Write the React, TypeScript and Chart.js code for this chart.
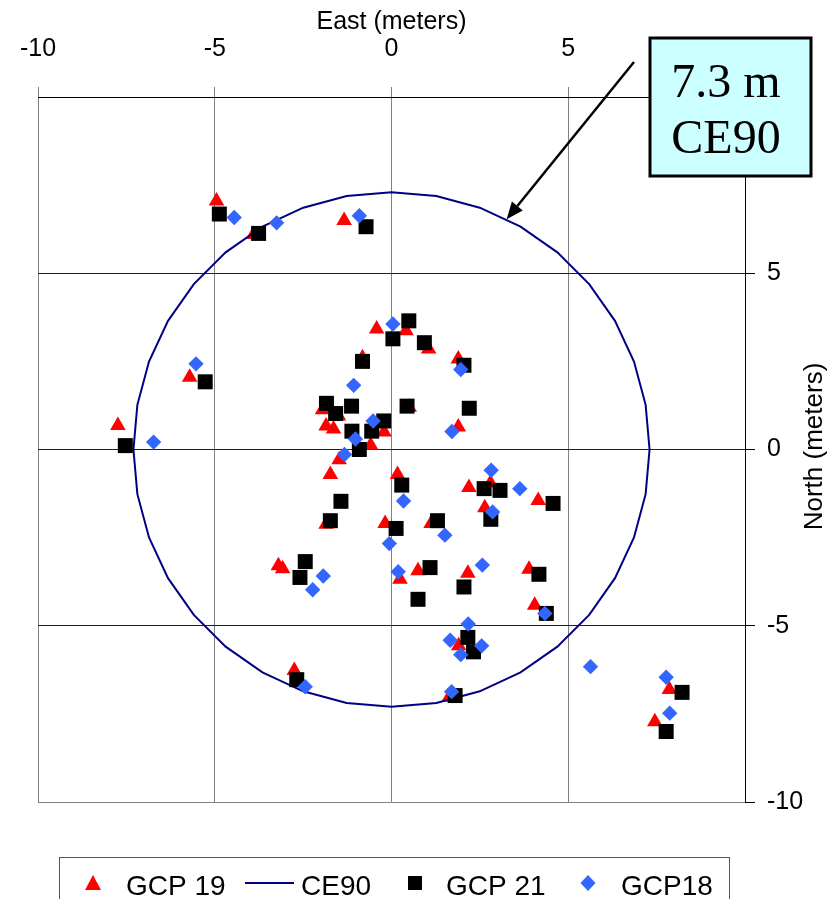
import React, { useEffect, useRef } from 'react';
import { Chart, registerables } from 'chart.js';

Chart.register(...registerables);

// ---- Data ----
const AXIS_MIN = -10;
const AXIS_MAX = 10;
const AXIS_STEP = 5;

const X_TITLE = 'East (meters)';
const Y_TITLE = 'North (meters)';

const LEGEND_LABELS = ['GCP 19', 'CE90', 'GCP 21', 'GCP18'];

// CE90 circle radius (meters), drawn as a polygon of vertices like the original
const CE90_RADIUS = 7.3;
const CE90_STEP_DEG = 10;
const CALLOUT_LINES = ['7.3 m', 'CE90'];
const CALLOUT_ANGLE_DEG = 63.5;

const GCP19: [number, number][] = [
  [-4.95, 7.05], [-3.9, 6.1], [-1.34, 6.5], [-5.71, 2.05], [-7.74, 0.68],
  [-0.42, 3.42], [0.41, 3.37], [1.05, 2.85], [-0.82, 2.6], [1.89, 2.57],
  [-1.95, 1.13], [-1.5, 0.95], [0.5, 1.2], [-1.85, 0.67], [-1.64, 0.58],
  [-0.21, 0.5], [-0.59, 0.12], [-1.48, -0.29], [1.89, 0.64], [-1.73, -0.71],
  [0.17, -0.71], [-1.85, -2.12], [-0.18, -2.1], [1.12, -2.1], [2.19, -1.08],
  [2.8, -0.95], [4.15, -1.45], [2.64, -1.65], [-3.2, -3.3], [-3.08, -3.38],
  [0.24, -3.68], [0.75, -3.44], [2.16, -3.51], [3.89, -3.4], [4.05, -4.42],
  [1.9, -5.57], [-2.75, -6.27], [1.63, -7.03], [7.86, -6.81], [7.45, -7.72],
];

const GCP21: [number, number][] = [
  [-4.87, 6.68], [-3.76, 6.13], [-0.72, 6.32], [-5.27, 1.92], [-7.53, 0.11],
  [0.49, 3.65], [0.04, 3.14], [0.93, 3.03], [-0.82, 2.5], [2.05, 2.39],
  [-1.84, 1.31], [-1.13, 1.23], [-1.58, 1.02], [0.44, 1.23], [2.2, 1.17],
  [-1.12, 0.52], [-0.56, 0.52], [-0.22, 0.81], [-0.91, 0.0], [0.29, -1.01],
  [-1.43, -1.47], [-1.73, -2.02], [0.13, -2.24], [1.3, -2.02], [2.62, -1.11],
  [3.07, -1.16], [4.57, -1.53], [2.81, -1.98], [-2.44, -3.18], [-2.59, -3.63],
  [1.09, -3.35], [0.75, -4.25], [2.05, -3.9], [4.17, -3.54], [4.38, -4.65],
  [2.16, -5.33], [2.32, -5.74], [-2.68, -6.53], [1.8, -6.98], [8.22, -6.89],
  [7.77, -8.0],
];

const GCP18: [number, number][] = [
  [-4.45, 6.58], [-3.25, 6.43], [-0.91, 6.63], [-5.53, 2.43], [-6.73, 0.21],
  [0.04, 3.56], [1.96, 2.27], [-1.07, 1.82], [-0.52, 0.81], [-1.02, 0.3],
  [-1.33, -0.14], [1.71, 0.51], [0.34, -1.46], [2.82, -0.59], [3.63, -1.11],
  [2.86, -1.77], [-0.06, -2.67], [1.51, -2.43], [-1.93, -3.59], [-2.23, -3.98],
  [0.19, -3.47], [2.57, -3.28], [4.34, -4.65], [2.17, -4.95], [1.66, -5.41],
  [2.55, -5.57], [1.96, -5.82], [-2.44, -6.73], [1.7, -6.87], [5.63, -6.16],
  [7.77, -6.46], [7.87, -7.48],
];

// ---- Styles ----
const RED = '#FF0000';
const NAVY = '#000080';
const BLACK = '#000000';
const BLUE = '#3366FF';
const SANS = '"Liberation Sans", Arial, sans-serif';
const SERIF = '"Liberation Serif", "Times New Roman", serif';

const toPts = (arr: [number, number][]) => arr.map(([x, y]) => ({ x, y }));

const circlePts = () => {
  const pts: { x: number; y: number }[] = [];
  for (let a = 0; a <= 360; a += CE90_STEP_DEG) {
    const r = (a * Math.PI) / 180;
    pts.push({ x: CE90_RADIUS * Math.cos(r), y: CE90_RADIUS * Math.sin(r) });
  }
  return pts;
};

function drawMarker(ctx: CanvasRenderingContext2D, kind: string, x: number, y: number, color: string) {
  ctx.save();
  ctx.fillStyle = color;
  ctx.beginPath();
  if (kind === 'triangle') {
    ctx.moveTo(x, y - 8);
    ctx.lineTo(x + 8, y + 7);
    ctx.lineTo(x - 8, y + 7);
    ctx.closePath();
  } else if (kind === 'rect') {
    ctx.rect(x - 7, y - 7, 14, 14);
  } else {
    ctx.moveTo(x, y - 8);
    ctx.lineTo(x + 7.5, y);
    ctx.lineTo(x, y + 8);
    ctx.lineTo(x - 7.5, y);
    ctx.closePath();
  }
  ctx.fill();
  ctx.restore();
}

const overlayPlugin = {
  id: 'overlay',
  afterDraw(chart: any) {
    const ctx: CanvasRenderingContext2D = chart.ctx;
    const xs = chart.scales.x;
    const ys = chart.scales.y;
    const area = chart.chartArea;

    // Y axis title (reads bottom-to-top)
    ctx.save();
    ctx.translate(815, (area.top + area.bottom) / 2 - 3);
    ctx.rotate(-Math.PI / 2);
    ctx.font = `26px ${SANS}`;
    ctx.fillStyle = BLACK;
    ctx.textAlign = 'center';
    ctx.textBaseline = 'middle';
    ctx.fillText(Y_TITLE, 0, 0);
    ctx.restore();

    // Arrow pointing to the CE90 circle
    const ang = (CALLOUT_ANGLE_DEG * Math.PI) / 180;
    const tipX = xs.getPixelForValue(CE90_RADIUS * Math.cos(ang));
    const tipY = ys.getPixelForValue(CE90_RADIUS * Math.sin(ang));
    const sx = 634;
    const sy = 62;
    const dir = Math.atan2(tipY - sy, tipX - sx);
    const headLen = 17;
    const headHalf = 7;
    const bx = tipX - headLen * Math.cos(dir);
    const by = tipY - headLen * Math.sin(dir);
    ctx.save();
    ctx.strokeStyle = BLACK;
    ctx.fillStyle = BLACK;
    ctx.lineWidth = 2.5;
    ctx.beginPath();
    ctx.moveTo(sx, sy);
    ctx.lineTo(bx, by);
    ctx.stroke();
    ctx.beginPath();
    ctx.moveTo(tipX, tipY);
    ctx.lineTo(bx + headHalf * Math.sin(dir), by - headHalf * Math.cos(dir));
    ctx.lineTo(bx - headHalf * Math.sin(dir), by + headHalf * Math.cos(dir));
    ctx.closePath();
    ctx.fill();
    ctx.restore();

    // Callout box
    ctx.save();
    ctx.fillStyle = '#CCFFFF';
    ctx.fillRect(650, 38, 161, 138);
    ctx.strokeStyle = BLACK;
    ctx.lineWidth = 3;
    ctx.strokeRect(650, 38, 161, 138);
    ctx.fillStyle = BLACK;
    ctx.font = `48px ${SERIF}`;
    ctx.textAlign = 'center';
    ctx.textBaseline = 'alphabetic';
    ctx.fillText(CALLOUT_LINES[0], 726, 97);
    ctx.fillText(CALLOUT_LINES[1], 726, 153);
    ctx.restore();

    // Legend
    ctx.save();
    ctx.fillStyle = '#FFFFFF';
    ctx.fillRect(59.5, 857.5, 670, 60);
    ctx.strokeStyle = '#555555';
    ctx.lineWidth = 1;
    ctx.strokeRect(59.5, 857.5, 670, 60);
    ctx.font = `28px ${SANS}`;
    ctx.fillStyle = BLACK;
    ctx.textAlign = 'left';
    ctx.textBaseline = 'alphabetic';
    drawMarker(ctx, 'triangle', 93, 883, RED);
    ctx.fillText(LEGEND_LABELS[0], 126, 895);
    ctx.strokeStyle = NAVY;
    ctx.lineWidth = 2;
    ctx.beginPath();
    ctx.moveTo(245, 883);
    ctx.lineTo(294, 883);
    ctx.stroke();
    ctx.fillText(LEGEND_LABELS[1], 301, 895);
    drawMarker(ctx, 'rect', 415, 883, BLACK);
    ctx.fillText(LEGEND_LABELS[2], 446, 895);
    drawMarker(ctx, 'diamond', 588, 883, BLUE);
    ctx.fillText(LEGEND_LABELS[3], 621, 895);
    ctx.restore();
  },
};

export default function App() {
  const ref = useRef<HTMLCanvasElement>(null);

  useEffect(() => {
    if (!ref.current) return;
    const chart = new Chart(ref.current, {
      type: 'scatter',
      data: {
        datasets: [
          {
            label: LEGEND_LABELS[0],
            data: toPts(GCP19),
            pointStyle: 'triangle',
            pointRadius: 9,
            pointBackgroundColor: RED,
            pointBorderWidth: 0,
            borderColor: RED,
            backgroundColor: RED,
            order: 4,
          },
          {
            label: LEGEND_LABELS[1],
            type: 'line',
            data: circlePts(),
            showLine: true,
            pointRadius: 0,
            borderColor: NAVY,
            borderWidth: 2,
            tension: 0,
            fill: false,
            order: 3,
          } as any,
          {
            label: LEGEND_LABELS[2],
            data: toPts(GCP21),
            pointStyle: 'rect',
            pointRadius: 10.6,
            pointBackgroundColor: BLACK,
            pointBorderWidth: 0,
            borderColor: BLACK,
            backgroundColor: BLACK,
            order: 2,
          },
          {
            label: LEGEND_LABELS[3],
            data: toPts(GCP18),
            pointStyle: 'rectRot',
            pointRadius: 7.7,
            pointBackgroundColor: BLUE,
            pointBorderWidth: 0,
            borderColor: BLUE,
            backgroundColor: BLUE,
            order: 1,
          },
        ],
      },
      options: {
        animation: false,
        responsive: false,
        maintainAspectRatio: false,
        devicePixelRatio: 1,
        layout: { padding: { left: 38, top: 0, right: 0, bottom: 97 } },
        plugins: {
          legend: { display: false },
          tooltip: { enabled: false },
        },
        scales: {
          x: {
            type: 'linear',
            position: 'top',
            min: AXIS_MIN,
            max: AXIS_MAX,
            afterFit: (s: any) => {
              s.height = 97;
              s.paddingLeft = 0;
              s.paddingRight = 0;
            },
            ticks: {
              stepSize: AXIS_STEP,
              padding: 23,
              color: BLACK,
              font: { family: SANS, size: 25 },
            },
            grid: {
              color: '#808080',
              lineWidth: 1,
              tickLength: 10,
              tickColor: '#808080',
            },
            border: { display: true, color: BLACK, width: 1 },
            title: {
              display: true,
              text: X_TITLE,
              color: BLACK,
              font: { family: SANS, size: 25 },
              padding: { top: 7, bottom: 0 },
            },
          },
          y: {
            type: 'linear',
            position: 'right',
            min: AXIS_MIN,
            max: AXIS_MAX,
            afterFit: (s: any) => {
              s.width = 93;
              s.paddingTop = 0;
              s.paddingBottom = 0;
            },
            ticks: {
              stepSize: AXIS_STEP,
              padding: 12,
              color: BLACK,
              font: { family: SANS, size: 25 },
            },
            grid: {
              color: (c: any) => (c.tick && c.tick.value === AXIS_MIN ? '#808080' : '#202020'),
              lineWidth: 1,
              tickLength: 10,
              tickColor: BLACK,
            },
            border: { display: true, color: BLACK, width: 1 },
          },
        },
      },
      plugins: [overlayPlugin],
    });
    return () => chart.destroy();
  }, []);

  return (
    <div style={{ position: 'absolute', left: 0, top: 0, width: 838, height: 899, background: '#fff' }}>
      <canvas ref={ref} width={838} height={899} style={{ display: 'block', width: 838, height: 899 }} />
    </div>
  );
}
